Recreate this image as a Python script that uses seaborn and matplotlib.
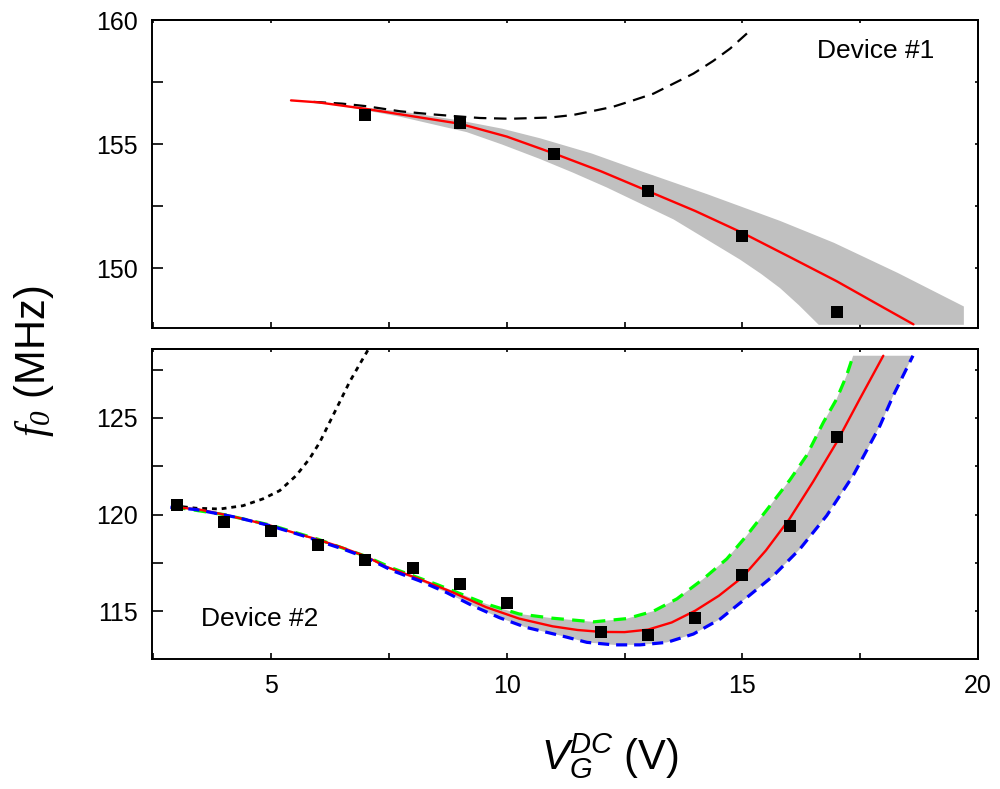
import matplotlib
matplotlib.use('Agg')
import matplotlib.pyplot as plt
from matplotlib.ticker import MultipleLocator
import seaborn as sns

# ---- Device #1 (top panel) ----
dev1_v = [7, 9, 11, 13, 15, 17]
dev1_f = [156.19, 155.85, 154.58, 153.11, 151.28, 148.24]

fit1_v = [5.42, 6, 7, 8, 9, 10, 11, 12, 13, 14, 15, 16, 17, 18, 18.63]
fit1_f = [156.76, 156.68, 156.42, 156.12, 155.82, 155.3, 154.62, 153.9,
          153.1, 152.3, 151.42, 150.45, 149.47, 148.4, 147.73]

uncoupled1_v = [5.9, 6.5, 7.0, 7.74, 8.4, 8.86, 9.43, 10.07, 10.92, 11.4,
                11.77, 12.25, 12.68, 13.11, 13.53, 13.96, 14.38, 14.74, 15.12]
uncoupled1_f = [156.70, 156.63, 156.53, 156.32, 156.2, 156.13, 156.05, 156.02,
                156.07, 156.17, 156.31, 156.50, 156.76, 157.03, 157.43, 157.84,
                158.35, 158.85, 159.5]

band1_hi_v = [6.3, 7.74, 9.0, 9.9, 10.71, 11.8, 12.83, 14.25, 15.8, 16.94,
              18.3, 19.7]
band1_hi_f = [156.6, 156.32, 155.95, 155.62, 155.23, 154.62, 153.92, 152.98,
              151.9, 151.02, 149.8, 148.45]
band1_lo_v = [6.3, 7.74, 9.15, 9.9, 10.7, 11.4, 12.12, 13.54, 14.95, 15.4,
              15.8, 16.2, 16.62, 19.7]
band1_lo_f = [156.6, 156.1, 155.48, 154.98, 154.4, 153.85, 153.25, 151.96,
              150.34, 149.76, 149.19, 148.5, 147.71, 147.71]

# ---- Device #2 (bottom panel) ----
dev2_v = [3, 4, 5, 6, 7, 8, 9, 10, 12, 13, 14, 15, 16, 17]
dev2_f = [120.51, 119.64, 119.17, 118.43, 117.67, 117.24, 116.41, 115.43,
          113.91, 113.79, 114.64, 116.88, 119.43, 124.02]

fit2_v = [2.92, 3.5, 4, 4.5, 5, 5.5, 6, 6.5, 7, 7.44, 8.14, 8.85, 9.56, 10.26,
          10.97, 11.5, 12.0, 12.5, 13.0, 13.5, 14.0, 14.5, 15.0, 15.5, 16.0,
          16.5, 17.0, 17.49, 17.99]
fit2_f = [120.4, 120.25, 120.0, 119.72, 119.42, 119.05, 118.7, 118.3, 117.85,
          117.3, 116.67, 115.98, 115.21, 114.62, 114.22, 114.03, 113.93, 113.92,
          114.05, 114.42, 115.03, 115.8, 116.76, 118.15, 119.78, 121.7, 123.74,
          125.98, 128.22]

low2_v = [2.86, 3.41, 4.26, 4.97, 5.67, 6.52, 7.01, 7.58, 8.14, 8.71, 9.27,
          9.84, 10.40, 11.14, 11.70, 12.27, 12.83, 13.40, 13.96, 14.53, 15.09,
          15.66, 16.22, 16.79, 17.35, 17.92, 18.20, 18.55, 18.62]
low2_f = [120.38, 120.26, 119.86, 119.43, 118.91, 118.22, 117.78, 117.09,
          116.58, 115.98, 115.29, 114.67, 114.17, 113.74, 113.39, 113.26,
          113.26, 113.39, 113.82, 114.60, 115.7, 116.84, 118.22, 119.95,
          122.02, 124.60, 126.15, 127.88, 128.22]

high2_v = [2.92, 4.0, 5.0, 6.0, 7.0, 7.6, 8.5, 9.56, 10.26, 10.97, 11.84,
           12.55, 13.11, 13.61, 14.17, 14.67, 15.09, 15.52, 16.01, 16.36,
           16.72, 17.0, 17.21, 17.35]
high2_f = [120.4, 120.0, 119.45, 118.72, 117.85, 117.2, 116.4, 115.38, 114.86,
           114.64, 114.45, 114.62, 115.0, 115.64, 116.67, 117.71, 118.91,
           120.25, 121.8, 123.05, 124.78, 125.98, 127.19, 128.22]

uncoupled2_v = [2.92, 3.41, 3.91, 4.40, 4.82, 5.18, 5.53, 5.81, 6.03, 6.24,
                6.45, 6.66, 6.87, 7.05]
uncoupled2_f = [120.46, 120.33, 120.29, 120.46, 120.81, 121.24, 122.02,
                122.88, 123.74, 124.78, 125.81, 126.85, 127.75, 128.5]

sns.set_theme(style='ticks')
plt.rcParams['font.family'] = ['Liberation Sans', 'DejaVu Sans']
plt.rcParams['mathtext.fontset'] = 'custom'
plt.rcParams['mathtext.rm'] = 'Liberation Serif:italic'
plt.rcParams['mathtext.it'] = 'Liberation Serif:italic'
plt.rcParams['mathtext.sf'] = 'Liberation Sans:italic'
plt.rcParams['lines.scale_dashes'] = False
for key in ('text.color', 'axes.labelcolor', 'axes.edgecolor',
            'xtick.color', 'ytick.color'):
    plt.rcParams[key] = 'black'

fig = plt.figure(figsize=(10, 7.89), dpi=100)
ax1 = fig.add_axes([0.152, 0.5839, 0.826, 0.3907])
ax2 = fig.add_axes([0.152, 0.1648, 0.826, 0.3929])

GRAY = '#c0c0c0'


def style_axes(ax):
    ax.set_xlim(2.47, 20)
    for axis in (ax.xaxis, ax.yaxis):
        axis.set_major_locator(MultipleLocator(5))
        axis.set_minor_locator(MultipleLocator(2.5))
    ax.tick_params(axis='y', which='both', direction='in', length=8, width=1.2,
                   labelsize=18, pad=10, colors='black')
    ax.tick_params(axis='x', which='both', direction='in', length=4, width=1.2,
                   labelsize=18, pad=11, colors='black')
    for s in ax.spines.values():
        s.set_linewidth(1.4)
    sec_y = ax.secondary_yaxis('right')
    sec_x = ax.secondary_xaxis('top')
    for sec, axis in ((sec_y, sec_y.yaxis), (sec_x, sec_x.xaxis)):
        axis.set_major_locator(MultipleLocator(5))
        axis.set_minor_locator(MultipleLocator(2.5))
        sec.tick_params(which='both', direction='in', length=2.5, width=1.2,
                        labelright=False, labeltop=False, colors='black')
        for s in sec.spines.values():
            s.set_linewidth(1.4)
    ax.set_xlabel('')
    ax.set_ylabel('')


# top panel
ax1.fill(band1_hi_v + band1_lo_v[::-1], band1_hi_f + band1_lo_f[::-1],
         color=GRAY, lw=0, zorder=1)
sns.lineplot(x=uncoupled1_v, y=uncoupled1_f, ax=ax1, color='black', lw=1.6,
             linestyle=(0, (9, 5.5)), sort=False, errorbar=None, zorder=2)
sns.lineplot(x=fit1_v, y=fit1_f, ax=ax1, color='#ff0000', lw=1.7,
             sort=False, errorbar=None, zorder=3)
sns.scatterplot(x=dev1_v, y=dev1_f, ax=ax1, marker='s', s=72, color='black',
                linewidth=0, zorder=5)
ax1.set_ylim(147.57, 160)
style_axes(ax1)
ax1.tick_params(labelbottom=False)
ax1.text(16.59, 158.77, 'Device #1', fontsize=19, ha='left', va='center')

# bottom panel
ax2.fill(high2_v + low2_v[::-1], high2_f + low2_f[::-1],
         color=GRAY, lw=0, zorder=1)
sns.lineplot(x=uncoupled2_v, y=uncoupled2_f, ax=ax2, color='black', lw=2.0,
             linestyle=(0, (3.5, 3.5)), sort=False, errorbar=None, zorder=2)
sns.lineplot(x=high2_v, y=high2_f, ax=ax2, color='#00ff00', lw=2.3,
             linestyle=(0, (9, 6)), sort=False, errorbar=None, zorder=2)
sns.lineplot(x=fit2_v, y=fit2_f, ax=ax2, color='#ff0000', lw=1.7,
             sort=False, errorbar=None, zorder=3)
sns.lineplot(x=low2_v, y=low2_f, ax=ax2, color='#0000ff', lw=2.3,
             linestyle=(0, (8, 5)), sort=False, errorbar=None, zorder=4)
sns.scatterplot(x=dev2_v, y=dev2_f, ax=ax2, marker='s', s=72, color='black',
                linewidth=0, zorder=5)
ax2.set_ylim(112.53, 128.57)
style_axes(ax2)
ax2.text(3.51, 114.6, 'Device #2', fontsize=19, ha='left', va='center')

# axis labels
fig.text(0.034, 0.542, r'$f_{0}$ (MHz)', rotation=90, fontsize=30,
         ha='center', va='center')
fig.text(0.61, 0.042, r'$\mathsf{V}_{\mathsf{G}}^{\mathsf{DC}}$ (V)',
         fontsize=30, ha='center', va='center')

fig.savefig('out.png', dpi=100)
